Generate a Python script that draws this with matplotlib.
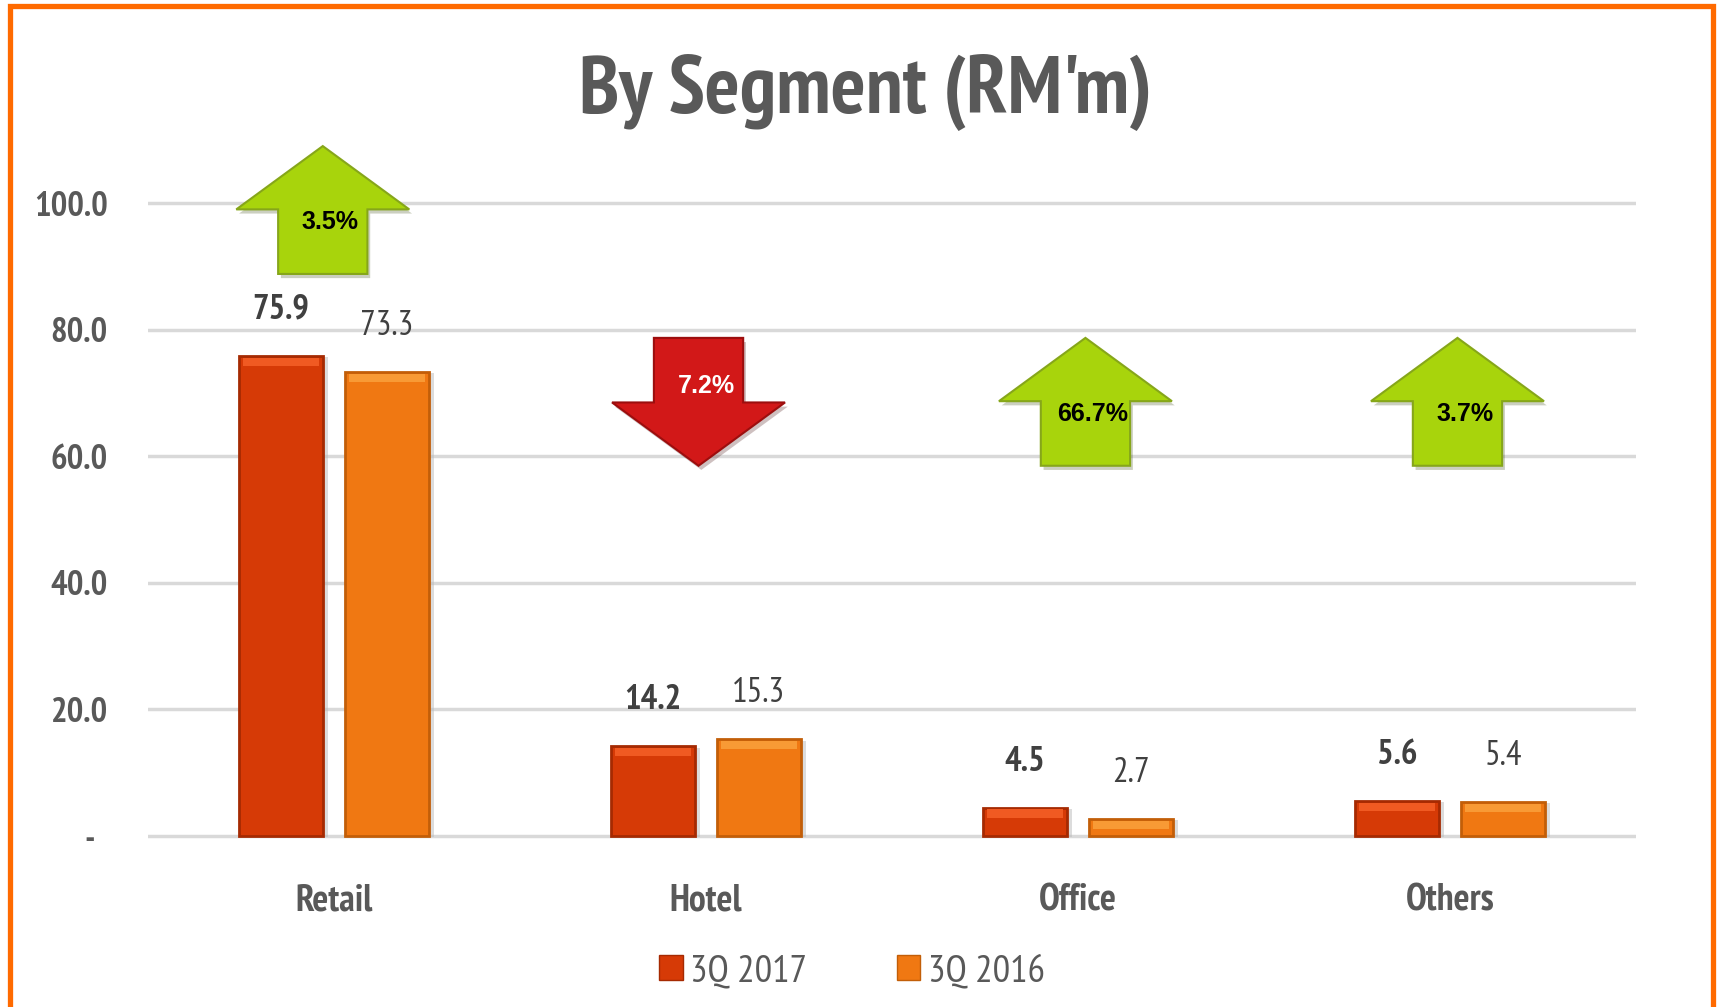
import matplotlib
matplotlib.use('Agg')
import matplotlib.pyplot as plt
import matplotlib.patheffects as pe
from matplotlib.patches import Polygon, Patch, Rectangle
import numpy as np

categories = ['Retail', 'Hotel', 'Office', 'Others']
q3_2017 = [75.9, 14.2, 4.5, 5.6]
q3_2016 = [73.3, 15.3, 2.7, 5.4]
series_names = ['3Q 2017', '3Q 2016']
yticks = [0, 20, 40, 60, 80, 100]

# arrow placement (layout only)
arrow_dx = [-0.03, -0.02, 0.02, 0.02]
arrow_base = [88.8, 58.5, 58.5, 58.5]

plt.rcParams['font.family'] = ['PT Sans Narrow', 'DejaVu Sans']

red = '#D63A06'
red_edge = '#A52A02'
orange = '#F07812'
orange_edge = '#C25E08'
grey = '#595959'

fig = plt.figure(figsize=(17.18, 10.07), dpi=100)
fig.patch.set_facecolor('white')
ax = fig.add_axes([0.0861, 0.1666, 0.8662, 0.6349])

x = np.arange(len(categories))
w = 0.225
off = 0.1425
shadow = [pe.SimplePatchShadow(offset=(4, -1), shadow_rgbFace='#BBBBBB', alpha=0.5), pe.Normal()]
bars1 = ax.bar(x - off, q3_2017, w, color=red, edgecolor=red_edge, linewidth=2, zorder=3)
bars2 = ax.bar(x + off, q3_2016, w, color=orange, edgecolor=orange_edge, linewidth=2, zorder=3)
for r in list(bars1) + list(bars2):
    r.set_path_effects(shadow)
# light band on top of the bars
ax.bar(x - off, 1.3, w * 0.9, bottom=np.array(q3_2017) - 1.6, color='#F05A22', zorder=4)
ax.bar(x + off, 1.3, w * 0.9, bottom=np.array(q3_2016) - 1.6, color='#F89A35', zorder=4)

for xi, v in zip(x - off, q3_2017):
    ax.annotate(f'{v:.1f}', (xi, v), xytext=(0, 33), textcoords='offset points',
                ha='center', va='center', fontsize=25, fontweight='bold', color='#404040')
for xi, v in zip(x + off, q3_2016):
    ax.annotate(f'{v:.1f}', (xi, v), xytext=(0, 33), textcoords='offset points',
                ha='center', va='center', fontsize=25, color='#404040')

# change arrows
sw, hw, shaft, head = 0.24, 0.465, 10.2, 10.0
for i, (a, b) in enumerate(zip(q3_2017, q3_2016)):
    chg = (a / b - 1) * 100
    cx = x[i] + arrow_dx[i]
    y0 = arrow_base[i]
    if chg >= 0:
        pts = [(cx - sw / 2, y0), (cx + sw / 2, y0), (cx + sw / 2, y0 + shaft),
               (cx + hw / 2, y0 + shaft), (cx, y0 + shaft + head),
               (cx - hw / 2, y0 + shaft), (cx - sw / 2, y0 + shaft)]
        fc, ec, tc, ty = '#A8D40C', '#86A61A', 'black', y0 + 8.2
    else:
        top = y0 + shaft + head
        pts = [(cx - sw / 2, top), (cx + sw / 2, top), (cx + sw / 2, top - shaft),
               (cx + hw / 2, top - shaft), (cx, y0),
               (cx - hw / 2, top - shaft), (cx - sw / 2, top - shaft)]
        fc, ec, tc, ty = '#D21818', '#9C0E0E', 'white', y0 + 12.6
    poly = Polygon(pts, closed=True, facecolor=fc, edgecolor=ec, linewidth=1.5,
                   zorder=5, clip_on=False)
    poly.set_path_effects([pe.SimplePatchShadow(offset=(2, -3), alpha=0.25), pe.Normal()])
    ax.add_patch(poly)
    ax.text(cx + 0.02, ty, f'{abs(chg):.1f}%', ha='center', va='center', fontsize=18,
            fontweight='bold', color=tc, family=['Liberation Sans', 'DejaVu Sans'], zorder=6)

ax.set_xlim(-0.5, 3.5)
ax.set_ylim(-0.5, 100.5)
ax.set_yticks(yticks)
ax.set_yticklabels(['-  ' if t == 0 else f'{t:.1f}' for t in yticks])
ax.set_xticks(x)
ax.set_xticklabels(categories)
ax.tick_params(axis='y', length=0, pad=29, labelsize=25, labelcolor=grey)
ax.tick_params(axis='x', length=0, pad=32, labelsize=27, labelcolor=grey)
for lab in ax.get_yticklabels() + ax.get_xticklabels():
    lab.set_fontweight('bold')
ax.yaxis.grid(True, color='#D9D9D9', linewidth=2.5, zorder=0)
ax.set_axisbelow(True)
for s in ax.spines.values():
    s.set_visible(False)

fig.text(0.504, 0.8878, "By Segment (RM'm)", ha='center', va='baseline',
         fontsize=59, fontweight='bold', color=grey)

handles = [Patch(facecolor=red, edgecolor=red_edge), Patch(facecolor=orange, edgecolor=orange_edge)]
fig.legend(handles, series_names, loc='center', bbox_to_anchor=(0.496, 0.035), ncol=2,
           frameon=False, fontsize=28, labelcolor=grey, handlelength=0.6, handleheight=0.6,
           handletextpad=0.2, columnspacing=2.3)

# orange frame round the slide
fig.patches.append(Rectangle((0.0061, -0.1), 0.991, 1.0945, transform=fig.transFigure,
                             fill=False, edgecolor='#FF6A00', linewidth=3.8, clip_on=False))

fig.savefig('out.png', dpi=100)
